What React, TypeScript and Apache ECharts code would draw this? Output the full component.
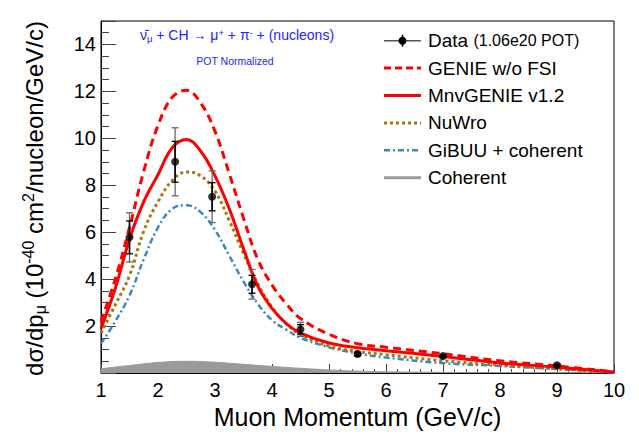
import React, { useEffect, useRef } from "react";
import * as echarts from "echarts";

// ---- data ----
const curveX = [1.0, 1.25, 1.5, 1.75, 2.0, 2.25, 2.5, 2.75, 3.0, 3.25, 3.5, 3.75, 4.0, 4.25, 4.5, 5.0, 5.5, 6.0, 7.0, 8.0, 9.0, 10.0];
const genieNoFsi = [2.2, 4.0, 6.2, 8.6, 10.55, 11.75, 12.05, 11.5, 10.3, 8.5, 6.6, 4.85, 3.75, 2.95, 2.32, 1.65, 1.25, 1.1, 0.82, 0.52, 0.3, 0.05];
const mnvGenie = [1.9, 3.6, 5.7, 7.3, 8.45, 9.6, 9.95, 9.45, 8.4, 7.0, 5.3, 3.7, 2.75, 2.1, 1.7, 1.28, 1.08, 0.95, 0.7, 0.43, 0.25, 0.04];
const nuWro = [1.7, 2.9, 4.15, 6.05, 7.3, 8.2, 8.57, 8.4, 7.75, 6.5, 5.1, 3.8, 2.8, 2.1, 1.65, 1.15, 0.92, 0.78, 0.52, 0.33, 0.18, 0.03];
const giBuu = [1.25, 2.2, 3.3, 4.85, 6.2, 7.0, 7.15, 6.85, 6.1, 5.0, 3.9, 2.95, 2.25, 1.85, 1.5, 1.1, 0.83, 0.66, 0.42, 0.3, 0.17, 0.03];
const coherentX = [1.0, 1.5, 2.0, 2.5, 3.0, 3.5, 4.0, 4.5, 5.0, 5.5, 6.0, 7.0, 8.0, 9.0, 10.0];
const coherent = [0.18, 0.32, 0.45, 0.5, 0.46, 0.37, 0.28, 0.2, 0.13, 0.08, 0.05, 0.03, 0.02, 0.01, 0.0];

const dataX = [1.5, 2.3, 2.95, 3.65, 4.5, 5.5, 7.0, 9.0];
const dataY = [5.78, 9.0, 7.51, 3.78, 1.86, 0.81, 0.72, 0.33];
const statErr = [0.7, 0.87, 0.6, 0.38, 0.2, 0.06, 0.05, 0.03];
const totErr = [1.05, 1.45, 1.1, 0.63, 0.3, 0.1, 0.08, 0.05];

const xTicks = [1, 2, 3, 4, 5, 6, 7, 8, 9, 10];
const yTickLabels = [2, 4, 6, 8, 10, 12, 14];

const legendNames = ["Data", "GENIE w/o FSI", "MnvGENIE v1.2", "NuWro", "GiBUU + coherent", "Coherent"];

const FONT = '"Liberation Sans", Arial, Helvetica, sans-serif';
const RED = "#ff0000";
const BROWN = "#a8750f";
const BLUE = "#3a87c9";
const GRAY = "#9a9a9a";
const TITLE_BLUE = "#2323ff";

function pairs(xs: number[], ys: number[]) {
  return xs.map((x, i) => [x, ys[i]]);
}

export default function App() {
  const ref = useRef<HTMLDivElement>(null);
  useEffect(() => {
    if (!ref.current) return;
    const chart = echarts.init(ref.current, undefined, { renderer: "svg" });

    const legendTop = 40.7;
    const legendStep = 27.4;
    const lx0 = 384;
    const lx1 = 421;
    const tx = 428;
    const legendLineStyles: any[] = [
      null,
      { stroke: RED, lineWidth: 3, lineDash: [7, 4] },
      { stroke: RED, lineWidth: 3 },
      { stroke: BROWN, lineWidth: 3, lineDash: [3, 3] },
      { stroke: BLUE, lineWidth: 2.5, lineDash: [6, 3, 2, 3] },
      { stroke: GRAY, lineWidth: 3 },
    ];
    const graphics: any[] = [];
    legendNames.forEach((name, i) => {
      const y = legendTop + i * legendStep;
      if (i === 0) {
        graphics.push({ type: "line", shape: { x1: lx0, y1: y, x2: lx1, y2: y }, style: { stroke: "#555", lineWidth: 1.5 } });
        graphics.push({ type: "line", shape: { x1: (lx0 + lx1) / 2, y1: y - 6, x2: (lx0 + lx1) / 2, y2: y + 6 }, style: { stroke: "#000", lineWidth: 1.5 } });
        graphics.push({ type: "circle", shape: { cx: (lx0 + lx1) / 2, cy: y, r: 4 }, style: { fill: "#000" } });
        graphics.push({
          type: "text",
          x: tx,
          y: y,
          style: {
            text: "Data {s|(1.06e20 POT)}",
            font: `19px ${FONT}`,
            fill: "#000",
            verticalAlign: "middle",
            align: "left",
            rich: { s: { fontSize: 16, fontFamily: FONT, fill: "#000" } },
          },
        });
      } else {
        graphics.push({ type: "line", shape: { x1: lx0, y1: y, x2: lx1, y2: y }, style: legendLineStyles[i] });
        graphics.push({
          type: "text",
          x: tx,
          y: y,
          style: { text: name, font: `19px ${FONT}`, fill: "#000", verticalAlign: "middle", align: "left" },
        });
      }
    });

    // process label
    graphics.push({
      type: "text",
      x: 237,
      y: 35,
      style: {
        text: "{n|ν̄}{sub|μ} + CH → μ{sup|+} + π{sup|-} + (nucleons)",
        font: `14px ${FONT}`,
        fill: TITLE_BLUE,
        align: "center",
        verticalAlign: "middle",
        rich: {
          n: { fontSize: 14, fontFamily: FONT, fill: TITLE_BLUE },
          sub: { fontSize: 9.5, fontFamily: FONT, fill: TITLE_BLUE, padding: [6, 0, 0, 0] },
          sup: { fontSize: 9.5, fontFamily: FONT, fill: TITLE_BLUE, padding: [0, 0, 6, 0] },
        },
      },
    });
    graphics.push({
      type: "text",
      x: 235,
      y: 61,
      style: { text: "POT Normalized", font: `10.5px ${FONT}`, fill: TITLE_BLUE, align: "center", verticalAlign: "middle" },
    });
    // y-axis title
    graphics.push({
      type: "text",
      x: 34,
      y: 21,
      rotation: Math.PI / 2,
      style: {
        text: "dσ/dp{sub|μ} (10{sup|-40} cm{sup|2}/nucleon/GeV/c)",
        font: `24px ${FONT}`,
        fill: "#000",
        align: "right",
        verticalAlign: "middle",
        rich: {
          sub: { fontSize: 16, fontFamily: FONT, fill: "#000", padding: [12, 0, 0, 0] },
          sup: { fontSize: 16, fontFamily: FONT, fill: "#000", padding: [0, 0, 12, 0] },
        },
      },
    });

    const errData = dataX.map((x, i) => [x, dataY[i], statErr[i], totErr[i]]);

    chart.setOption({
      animation: false,
      backgroundColor: "#fff",
      grid: { left: 101, right: 25, top: 21, bottom: 62, show: true, borderColor: "#000", borderWidth: 1, backgroundColor: "transparent" },
      xAxis: {
        type: "value",
        min: xTicks[0],
        max: xTicks[xTicks.length - 1],
        interval: 1,
        name: "Muon Momentum (GeV/c)",
        nameLocation: "middle",
        nameGap: 24,
        nameTextStyle: { fontSize: 25, fontFamily: FONT, color: "#000" },
        axisLine: { show: true, onZero: false, lineStyle: { color: "#000", width: 1 } },
        axisTick: { show: true, inside: true, length: 9, lineStyle: { color: "#444" } },
        minorTick: { show: true, splitNumber: 5, length: 4, lineStyle: { color: "#444" } },
        splitLine: { show: false },
        axisLabel: { fontSize: 20, fontFamily: FONT, color: "#000", margin: 7 },
      },
      yAxis: {
        type: "value",
        min: 0,
        max: 15,
        interval: 2,
        axisLine: { show: true, onZero: false, lineStyle: { color: "#000", width: 1 } },
        axisTick: { show: true, inside: true, length: 15, lineStyle: { color: "#444" } },
        minorTick: { show: true, splitNumber: 4, length: 8, lineStyle: { color: "#444" } },
        splitLine: { show: false },
        axisLabel: {
          fontSize: 20,
          fontFamily: FONT,
          color: "#000",
          margin: 5,
          formatter: (v: number) => (yTickLabels.indexOf(v) >= 0 ? String(v) : ""),
        },
      },
      graphic: graphics,
      series: [
        {
          name: "Coherent",
          type: "line",
          data: pairs(coherentX, coherent),
          smooth: 0.4,
          symbol: "none",
          lineStyle: { color: GRAY, width: 1 },
          areaStyle: { color: GRAY, opacity: 1 },
          z: 1,
        },
        {
          name: "GiBUU + coherent",
          type: "line",
          data: pairs(curveX, giBuu),
          smooth: 0.4,
          symbol: "none",
          lineStyle: { color: BLUE, width: 2.5, type: [6, 3, 2, 3] },
          z: 2,
        },
        {
          name: "NuWro",
          type: "line",
          data: pairs(curveX, nuWro),
          smooth: 0.4,
          symbol: "none",
          lineStyle: { color: BROWN, width: 3, type: [3, 3] },
          z: 3,
        },
        {
          name: "GENIE w/o FSI",
          type: "line",
          data: pairs(curveX, genieNoFsi),
          smooth: 0.4,
          symbol: "none",
          lineStyle: { color: RED, width: 3, type: [8, 5] },
          z: 4,
        },
        {
          name: "MnvGENIE v1.2",
          type: "line",
          data: pairs(curveX, mnvGenie),
          smooth: 0.4,
          symbol: "none",
          lineStyle: { color: RED, width: 3 },
          z: 5,
        },
        {
          name: "Data errors",
          type: "custom",
          data: errData,
          z: 6,
          renderItem: (params: any, api: any) => {
            const x = api.value(0);
            const y = api.value(1);
            const s = api.value(2);
            const t = api.value(3);
            const pTop = api.coord([x, y + t]);
            const pBot = api.coord([x, y - t]);
            const sTop = api.coord([x, y + s]);
            const sBot = api.coord([x, y - s]);
            const cx = pTop[0];
            const w = 3.5;
            return {
              type: "group",
              children: [
                { type: "line", shape: { x1: cx, y1: pTop[1], x2: cx, y2: pBot[1] }, style: { stroke: "#666", lineWidth: 1.3 } },
                { type: "line", shape: { x1: cx - w, y1: pTop[1], x2: cx + w, y2: pTop[1] }, style: { stroke: "#666", lineWidth: 1.3 } },
                { type: "line", shape: { x1: cx - w, y1: pBot[1], x2: cx + w, y2: pBot[1] }, style: { stroke: "#666", lineWidth: 1.3 } },
                { type: "line", shape: { x1: cx, y1: sTop[1], x2: cx, y2: sBot[1] }, style: { stroke: "#000", lineWidth: 1.6 } },
                { type: "line", shape: { x1: cx - w, y1: sTop[1], x2: cx + w, y2: sTop[1] }, style: { stroke: "#000", lineWidth: 1.3 } },
                { type: "line", shape: { x1: cx - w, y1: sBot[1], x2: cx + w, y2: sBot[1] }, style: { stroke: "#000", lineWidth: 1.3 } },
              ],
            };
          },
        },
        {
          name: "Data",
          type: "scatter",
          data: pairs(dataX, dataY),
          symbol: "circle",
          symbolSize: 8,
          itemStyle: { color: "#000" },
          z: 7,
        },
      ],
    });
    return () => chart.dispose();
  }, []);
  return <div ref={ref} style={{ position: "absolute", left: 0, top: 0, width: 639, height: 435 }} />;
}
